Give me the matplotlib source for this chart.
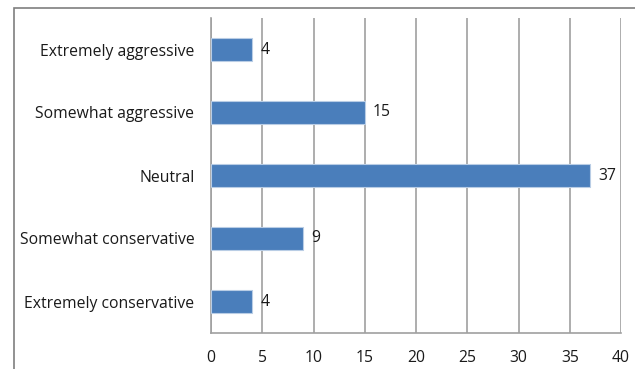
import matplotlib
matplotlib.use("Agg")
import matplotlib.pyplot as plt
from matplotlib.patches import Rectangle

categories = ["Extremely conservative", "Somewhat conservative", "Neutral",
              "Somewhat aggressive", "Extremely aggressive"]
values = [4, 9, 37, 15, 4]
xticks = [0, 5, 10, 15, 20, 25, 30, 35, 40]

plt.rcParams['font.family'] = ['Open Sans', 'DejaVu Sans']

W, H = 635, 369
fig = plt.figure(figsize=(W/100, H/100), dpi=100)
ax = fig.add_axes([211/W, (H-333)/H, (621-211)/W, (333-18)/H])

# outer chart border
fig.patches.append(Rectangle((14/W, -0.1), 1.2, (H-8)/H + 0.1, transform=fig.transFigure,
                             fill=False, edgecolor='#7f7f7f', linewidth=1.2))

fs = 11.3
ypos = list(range(len(categories)))
ax.barh(ypos, values, height=0.35, color='#4a7ebb', edgecolor='#b9cde5', linewidth=0.8, zorder=3)
for y, v in zip(ypos, values):
    ax.text(v + 0.8, y, str(v), va='center', ha='left', fontsize=fs, color='#1a1a1a')

ax.set_xlim(0, 40)
ax.set_ylim(-0.5, len(categories) - 0.5)
ax.set_xticks(xticks)
ax.set_xticklabels([str(t) for t in xticks])
ax.set_yticks(ypos)
ax.set_yticklabels(categories)
ax.tick_params(axis='both', length=0, labelsize=fs, colors='#1a1a1a')
ax.tick_params(axis='x', pad=12)
ax.tick_params(axis='y', pad=12)
ax.xaxis.grid(True, color='#a0a0a0', linewidth=1.2, zorder=0)
for s in ['top', 'right']:
    ax.spines[s].set_visible(False)
ax.spines['left'].set_color('#a0a0a0')
ax.spines['bottom'].set_color('#a0a0a0')
ax.spines['left'].set_linewidth(1.2)
ax.spines['bottom'].set_linewidth(1.2)

fig.savefig("out.png", dpi=100)
